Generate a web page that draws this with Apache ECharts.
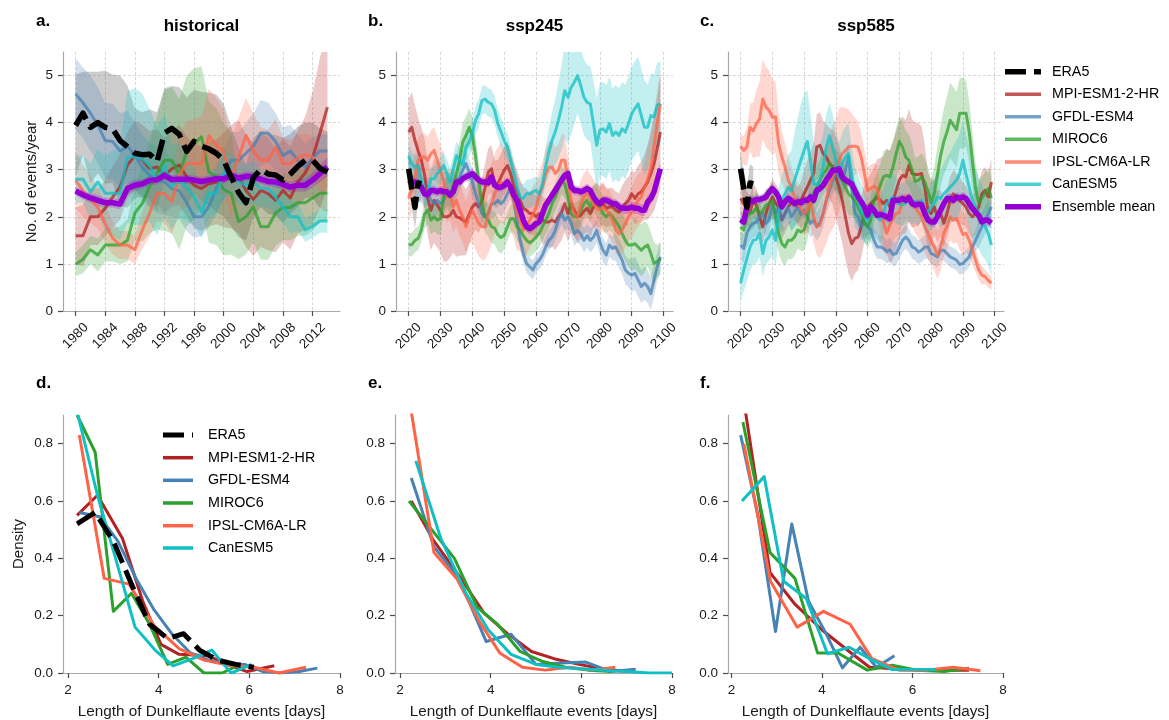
<!DOCTYPE html>
<html>
<head>
<meta charset="utf-8">
<title>Dunkelflaute events</title>
<script src="https://cdn.jsdelivr.net/npm/echarts@6.0.0/dist/echarts.min.js"></script>
<style>
  html, body { margin: 0; padding: 0; background: #ffffff; }
  #chart { width: 1169px; height: 720px; }
</style>
</head>
<body>
<div id="chart"></div>
<script>
// ---------- names, colours, ticks ----------
const modelNames = ['MPI-ESM1-2-HR', 'GFDL-ESM4', 'MIROC6', 'IPSL-CM6A-LR', 'CanESM5'];
const modelColors = ['#b22222', '#4682b4', '#2ca02c', '#ff6347', '#10bfc4'];
const era5Name = 'ERA5';
const ensName = 'Ensemble mean';
const era5Color = '#000000';
const ensColor = '#9400d3';

const histYearTicks = [1980, 1984, 1988, 1992, 1996, 2000, 2004, 2008, 2012];
const futureYearTicks = [2020, 2030, 2040, 2050, 2060, 2070, 2080, 2090, 2100];
const countTicks = [0, 1, 2, 3, 4, 5];
const lengthTicks = [2, 4, 6, 8];
const densityTicks = [0, 0.2, 0.4, 0.6, 0.8];

const panelTitles = ['historical', 'ssp245', 'ssp585'];
const panelLetters = ['a.', 'b.', 'c.', 'd.', 'e.', 'f.'];

// ---------- historical events per year (1980-2014) ----------
const histStart = 1980;
const histERA5 = [3.94,4.2,3.9,4.0,3.9,3.87,3.62,3.49,3.35,3.32, 3.33,3.17,3.78,3.88,3.75,3.39,3.6,3.5,3.44,3.35, 3.2,2.85,2.52,2.3,2.83,3.01,2.91,2.89,2.78,2.91, 3.07,3.2,3.2,3.03,2.95];
const histMPI = [1.6,1.6,2.0,2.0,2.18,2.42,2.63,3.1,3.3,3.2, 3.02,3.06,2.88,3.02,3.1,2.85,2.67,2.6,2.7,2.74, 2.78,2.85,2.85,2.56,2.37,2.56,2.49,2.35,2.56,2.4, 2.74,2.93,3.25,3.78,4.33];
const histGFDL = [4.61,4.42,4.2,3.95,3.62,3.6,3.4,3.5,3.3,3.05, 2.88,2.78,2.74,2.6,2.55,2.3,2.0,2.0,2.22,2.6, 2.9,3.2,3.2,3.35,3.5,3.78,3.78,3.6,3.3,3.4, 3.2,3.05,3.25,3.4,3.4];
const histMIROC = [0.99,1.1,1.3,1.19,1.4,1.4,1.4,1.5,2.08,2.28, 2.65,2.93,3.2,3.2,2.9,3.4,3.55,3.7,2.95,2.85, 2.58,2.5,1.9,2.0,2.21,1.79,1.79,2.08,2.2,2.2, 2.3,2.3,2.4,2.5,2.5];
const histIPSL = [2.78,2.55,2.38,2.2,1.85,1.55,1.4,1.4,1.3,1.72, 2.08,2.5,2.49,2.32,2.9,3.13,3.13,3.13,3.72,3.52, 3.38,2.83,3.25,3.73,3.4,3.2,3.2,3.48,3.13,3.13, 3.25,3.32,3.27,3.0,2.98];
const histCan = [2.8,2.8,2.53,2.74,2.5,2.5,2.5,3.27,3.28,3.22, 3.09,2.76,3.09,2.64,2.78,2.62,2.42,2.1,2.5,2.5, 2.92,2.88,2.74,2.67,2.74,2.6,2.6,2.42,2.21,2.0, 2.0,1.72,1.8,1.91,1.91];
const histEns = [2.55,2.47,2.4,2.35,2.3,2.3,2.27,2.6,2.67,2.7, 2.77,2.79,2.88,2.79,2.8,2.8,2.78,2.75,2.78,2.81, 2.81,2.88,2.82,2.86,2.85,2.8,2.75,2.74,2.69,2.63, 2.67,2.67,2.78,2.92,3.06];
// half-widths of the shaded spread
const histERA5Band = [1.08,0.88,1.18,1.08,1.2,1.15,1.38,1.3,0.95,0.9, 0.95,1.05,0.95,0.9,1.0,1.15,1.1,1.15,1.2,1.25, 1.2,1.05,0.95,0.8,0.85,0.8,0.85,0.85,0.9,0.85, 0.85,0.8,0.8,0.85,0.85];
const histMPIBand = [0.6,0.65,0.6,0.6,0.6,0.65,0.7,0.7,0.75,0.75, 0.8,0.8,0.8,0.8,0.85,0.85,0.9,0.9,0.9,0.9, 1.0,1.1,1.2,1.2,1.2,1.2,1.2,1.1,1.1,1.1, 1.1,1.2,1.4,1.6,1.7];
const histGFDLBand = [0.75,0.75,0.8,0.8,0.8,0.8,0.8,0.75,0.7,0.7, 0.7,0.7,0.7,0.6,0.6,0.6,0.45,0.4,0.45,0.5, 0.55,0.6,0.6,0.65,0.7,0.7,0.65,0.6,0.6,0.55, 0.55,0.5,0.45,0.35,0.35];
const histMIROCBand = [0.25,0.3,0.3,0.35,0.35,0.35,0.4,0.45,0.6,0.8, 1.0,1.2,1.5,1.55,1.6,1.6,1.6,1.5,1.5,1.45, 1.4,1.3,0.8,0.8,0.75,0.7,0.7,0.7,0.7,0.7, 0.7,0.7,0.7,0.6,0.6];
const histIPSLBand = [0.6,0.55,0.5,0.45,0.4,0.35,0.3,0.3,0.3,0.4, 0.5,0.6,0.6,0.7,0.8,0.9,0.95,1.0,1.0,1.0, 0.9,0.85,0.85,0.8,0.8,0.7,0.65,0.6,0.55,0.5, 0.5,0.45,0.45,0.45,0.45];
const histCanBand = [0.5,0.5,0.6,0.7,0.8,0.9,1.0,1.4,1.45,1.4, 1.2,1.15,1.1,0.9,0.8,0.7,0.6,0.55,0.5,0.5, 0.5,0.45,0.45,0.45,0.45,0.4,0.4,0.4,0.35,0.35, 0.3,0.25,0.25,0.25,0.25];
const histEnsBand = [0.09,0.1,0.1,0.11,0.1,0.1,0.11,0.12,0.11,0.1, 0.1,0.1,0.1,0.1,0.1,0.1,0.1,0.1,0.1,0.1, 0.1,0.1,0.1,0.1,0.1,0.1,0.1,0.11,0.11,0.12, 0.13,0.14,0.16,0.18,0.2];

// ---------- ERA5 in the first scenario years (2020-2024) ----------
const recentStart = 2020;
const recentERA5 = [3.02, 2.6, 2.2, 2.72, 2.7];
const recentERA5Band = [0.35, 0.4, 0.45, 0.4, 0.35];

// ---------- ssp245 events per year (2020-2099) ----------
const futureStart = 2020;
const s245MPI = [3.8,3.9,3.62,3.4,3.2,2.9,2.4,2.14,2.35,2.25, 2.14,2.0,2.0,2.03,2.14,2.0,1.98,1.93,1.89,2.05, 2.21,2.28,2.21,2.32,2.63,2.95,3.02,2.7,2.7,2.85, 2.99,3.09,2.92,2.67,2.53,2.35,2.18,2.14,2.07,2.07, 2.0,2.07,1.93,1.89,1.89,1.93,1.89,2.0,2.1,2.28, 2.07,2.28,2.14,2.0,2.03,2.12,2.18,2.07,2.21,2.28, 2.21,2.28,2.18,2.21,2.21,2.14,2.1,2.21,2.28,2.35, 2.49,2.39,2.49,2.53,2.63,2.74,2.92,3.13,3.45,3.8];
const s245GFDL = [2.92,2.85,2.78,2.63,2.6,2.49,2.53,2.35,2.28,2.35, 2.28,2.35,2.56,2.49,2.56,2.67,2.85,2.99,3.13,2.95, 2.74,2.49,2.28,2.07,2.0,2.07,2.28,2.28,2.35,2.28, 2.35,2.49,2.63,2.35,1.93,1.5,1.22,1.01,0.94,0.87, 1.01,1.08,1.19,1.36,1.5,1.57,1.71,1.93,2.07,1.93, 2.0,1.86,1.64,1.71,1.64,1.5,1.6,1.5,1.57,1.71, 1.47,1.29,1.19,1.4,1.33,1.36,1.22,1.08,0.87,0.8, 0.76,0.8,0.66,0.52,0.59,0.52,0.37,0.66,0.94,1.15];
const s245MIROC = [1.4,1.41,1.5,1.54,1.72,2.05,2.15,1.93,2.0,1.93, 1.96,2.42,2.53,2.42,2.67,2.92,3.2,3.59,3.73,3.9, 3.73,3.3,2.74,2.3,2.0,1.93,1.79,1.76,1.62,1.56, 1.61,1.79,1.96,1.96,1.79,1.72,1.6,1.5,1.45,1.5, 1.57,1.65,1.79,1.93,2.07,2.28,2.42,2.6,2.78,2.7, 2.42,2.07,2.0,2.03,2.14,2.28,2.35,2.2,2.4,2.32, 2.21,2.07,2.0,2.07,2.0,1.9,1.8,1.64,1.5,1.4, 1.4,1.43,1.36,1.29,1.36,1.4,1.22,1.01,1.05,1.12];
const s245IPSL = [2.39,2.6,2.85,3.2,3.27,3.27,3.2,3.34,3.41,3.2, 2.99,2.74,2.42,2.49,2.21,2.35,2.14,2.0,1.79,2.0, 2.14,2.0,1.86,1.79,1.79,2.07,2.28,2.49,2.63,2.74, 2.63,2.78,2.53,2.35,2.07,1.89,1.72,1.79,1.93,2.05, 2.2,2.45,2.63,2.9,3.05,3.06,2.92,2.99,3.2,3.2, 2.78,2.35,2.07,2.0,2.28,2.42,2.5,2.4,2.28,2.18, 2.15,2.2,2.14,2.07,1.93,1.72,1.64,1.72,1.86,2.0, 2.1,2.25,2.35,2.42,2.63,2.78,3.05,3.5,3.98,4.4];
const s245Can = [3.3,3.13,3.06,3.09,2.78,2.53,2.49,2.81,2.81,2.92, 2.99,3.09,2.92,2.74,3.02,3.3,3.2,3.1,3.48,3.59, 3.77,4.05,4.19,4.47,4.5,4.43,4.4,4.26,3.98,3.8, 3.62,3.48,3.2,2.92,2.63,2.42,2.39,2.49,2.49,2.53, 2.56,2.49,2.7,3.06,3.38,3.62,3.8,4.05,4.33,4.68, 4.54,4.75,4.86,5.0,4.79,4.54,4.43,4.4,3.98,3.52, 3.84,3.87,3.8,3.98,3.73,3.8,3.73,3.87,3.8,3.98, 4.19,4.3,4.4,4.15,3.9,3.9,4.15,4.12,4.37,4.4];
const s245Ens = [2.78,2.74,2.74,2.7,2.63,2.49,2.47,2.56,2.56,2.53, 2.56,2.53,2.53,2.46,2.53,2.74,2.74,2.81,2.85,2.88, 2.92,2.85,2.78,2.74,2.74,2.72,2.85,2.67,2.63,2.63, 2.67,2.74,2.63,2.46,2.35,2.14,1.93,1.79,1.75,1.79, 1.86,1.89,2.07,2.25,2.35,2.46,2.56,2.67,2.78,2.88, 2.92,2.63,2.56,2.56,2.53,2.56,2.6,2.56,2.42,2.32, 2.28,2.35,2.35,2.32,2.28,2.28,2.21,2.18,2.18,2.18, 2.21,2.18,2.18,2.14,2.14,2.32,2.39,2.53,2.78,3.02];
const s245MPIBand = [0.7,0.75,0.75,0.7,0.7,0.75,0.8,0.85,0.9,0.9, 0.9,0.95,0.95,0.9,0.9,0.85,0.8,0.75,0.7,0.65, 0.6,0.55,0.55,0.5,0.5,0.5,0.5,0.5,0.5,0.5, 0.5,0.5,0.5,0.45,0.45,0.45,0.45,0.45,0.45,0.45, 0.45,0.45,0.5,0.5,0.55,0.55,0.6,0.6,0.6,0.6, 0.6,0.6,0.55,0.55,0.5,0.5,0.5,0.5,0.45,0.45, 0.45,0.45,0.4,0.4,0.4,0.4,0.4,0.45,0.5,0.5, 0.5,0.55,0.6,0.65,0.7,0.8,0.9,1.0,1.1,1.2];
const s245GFDLBand = [0.3,0.3,0.3,0.3,0.3,0.3,0.3,0.3,0.3,0.3, 0.3,0.3,0.3,0.3,0.28,0.28,0.28,0.28,0.28,0.28, 0.28,0.28,0.28,0.28,0.28,0.28,0.28,0.28,0.28,0.28, 0.25,0.25,0.25,0.25,0.25,0.2,0.2,0.2,0.2,0.2, 0.2,0.2,0.2,0.2,0.2,0.22,0.22,0.22,0.22,0.22, 0.25,0.25,0.25,0.25,0.25,0.25,0.25,0.25,0.25,0.25, 0.25,0.25,0.25,0.25,0.25,0.3,0.3,0.3,0.3,0.3, 0.35,0.35,0.35,0.35,0.35,0.35,0.35,0.35,0.3,0.3];
const s245MIROCBand = [0.25,0.25,0.25,0.25,0.25,0.3,0.3,0.3,0.3,0.3, 0.35,0.35,0.35,0.35,0.35,0.4,0.4,0.4,0.4,0.4, 0.4,0.4,0.4,0.35,0.35,0.35,0.35,0.35,0.35,0.35, 0.3,0.3,0.3,0.3,0.3,0.3,0.3,0.3,0.3,0.3, 0.3,0.3,0.3,0.3,0.3,0.3,0.3,0.3,0.3,0.3, 0.3,0.3,0.3,0.3,0.3,0.3,0.3,0.3,0.3,0.3, 0.35,0.35,0.35,0.35,0.35,0.45,0.45,0.45,0.45,0.45, 0.55,0.55,0.55,0.55,0.55,0.45,0.45,0.45,0.35,0.35];
const s245IPSLBand = [0.5,0.5,0.5,0.5,0.5,0.5,0.5,0.5,0.5,0.5, 0.55,0.55,0.55,0.55,0.55,0.55,0.55,0.55,0.55,0.55, 0.7,0.7,0.7,0.7,0.7,0.85,0.85,0.85,0.85,0.85, 0.8,0.8,0.8,0.8,0.8,0.6,0.6,0.6,0.6,0.6, 0.55,0.55,0.55,0.55,0.55,0.55,0.55,0.55,0.55,0.55, 0.5,0.5,0.5,0.5,0.5,0.5,0.5,0.5,0.5,0.5, 0.5,0.5,0.5,0.5,0.5,0.5,0.5,0.5,0.5,0.5, 0.55,0.55,0.55,0.55,0.55,0.7,0.7,0.7,0.7,0.7];
const s245CanBand = [0.25,0.25,0.25,0.25,0.25,0.25,0.25,0.25,0.25,0.25, 0.3,0.3,0.3,0.3,0.3,0.3,0.3,0.3,0.3,0.3, 0.3,0.3,0.3,0.3,0.3,0.3,0.3,0.3,0.3,0.3, 0.3,0.3,0.3,0.3,0.3,0.3,0.3,0.3,0.3,0.3, 0.3,0.3,0.3,0.4,0.5,0.6,0.7,0.8,0.9,1.0, 1.0,1.0,0.9,0.8,0.8,0.8,0.8,0.8,0.9,1.0, 1.0,1.0,1.0,1.0,1.0,1.0,1.0,1.0,1.0,1.0, 1.0,1.0,1.0,1.0,1.0,0.9,0.9,0.9,0.9,0.9];
const s245EnsBand = [0.1,0.1,0.11,0.11,0.1,0.1,0.1,0.1,0.1,0.1, 0.1,0.1,0.1,0.1,0.1,0.1,0.1,0.1,0.11,0.11, 0.11,0.1,0.1,0.1,0.1,0.1,0.1,0.1,0.1,0.1, 0.1,0.1,0.1,0.1,0.1,0.1,0.1,0.1,0.1,0.1, 0.1,0.1,0.1,0.1,0.1,0.1,0.1,0.1,0.11,0.11, 0.11,0.1,0.1,0.1,0.1,0.1,0.1,0.1,0.1,0.1, 0.1,0.1,0.1,0.1,0.1,0.1,0.11,0.11,0.12,0.12, 0.12,0.12,0.12,0.12,0.12,0.13,0.13,0.14,0.15,0.15];

// ---------- ssp585 events per year (2020-2099) ----------
const s585MPI = [2.39,2.28,2.18,2.1,2.35,2.25,2.0,1.79,2.07,2.28, 2.42,2.3,2.2,1.93,2.07,2.21,2.3,2.35,2.21,2.35, 2.49,2.63,2.78,2.92,3.48,3.52,3.34,3.27,3.13,3.06, 2.85,2.63,2.35,2.0,1.65,1.43,1.54,1.57,1.79,2.07, 2.21,2.28,2.35,2.42,2.35,2.28,2.35,2.21,2.35,2.56, 2.78,2.88,2.85,3.09,2.92,2.9,2.9,2.92,2.63,2.14, 2.07,2.21,2.0,2.07,1.86,2.07,2.35,2.49,2.42,2.35, 2.28,2.21,2.07,2.0,2.07,2.21,2.49,2.56,2.42,2.74];
const s585GFDL = [1.4,1.33,1.65,1.79,1.86,1.89,2.0,2.07,1.86,1.93, 2.3,2.07,2.2,1.95,2.07,2.2,2.0,2.1,2.21,2.05, 2.14,2.0,1.86,1.93,1.79,1.89,2.07,2.35,2.56,2.78, 2.92,2.85,2.78,2.99,3.27,2.63,2.07,2.0,1.79,1.89, 1.8,1.72,1.5,1.36,1.36,1.33,1.26,1.3,1.2,1.22, 1.36,1.5,1.57,1.5,1.36,1.33,1.25,1.29,1.36,1.36, 1.22,1.19,1.15,1.29,1.29,1.22,1.15,1.12,1.08,0.99, 1.01,1.08,1.15,1.36,1.5,1.65,1.79,1.93,2.07,2.21];
const s585MIROC = [1.79,1.72,2.0,2.07,2.1,2.21,2.07,2.12,2.25,2.28, 2.35,2.0,1.65,1.43,1.36,1.5,1.5,1.57,1.72,1.68, 1.72,1.93,2.35,2.49,2.63,2.78,2.92,2.99,3.13,3.06, 2.99,2.92,2.78,2.63,2.49,2.42,2.35,2.21,2.07,1.86, 1.79,1.93,2.35,2.49,2.67,2.85,2.88,2.85,3.06,3.34, 3.6,3.48,3.27,3.2,2.99,2.75,2.78,2.85,2.74,2.55, 2.3,2.5,2.9,3.3,3.6,3.8,4.05,3.95,3.85,4.2, 4.2,4.2,3.8,3.2,2.6,2.3,2.4,2.5,2.6,2.4];
const s585IPSL = [3.5,3.41,3.48,3.9,3.83,3.98,4.08,4.5,4.33,4.26, 4.12,4.12,3.55,3.27,3.06,2.78,2.63,2.42,2.28,2.18, 2.07,2.15,2.35,2.0,1.79,1.82,2.07,2.35,2.63,2.85, 2.99,3.2,3.34,3.41,3.48,3.5,3.5,3.48,3.27,2.92, 2.56,2.6,2.65,2.6,2.2,1.89,1.65,1.82,1.96,2.07, 2.1,2.35,2.45,2.4,2.3,2.2,2.1,2.0,1.79,1.65, 1.5,1.36,1.19,1.36,1.65,1.8,2.0,1.93,1.96,1.8, 1.62,1.65,1.5,1.29,1.08,0.87,0.76,0.73,0.65,0.59];
const s585Can = [0.59,0.87,1.12,1.36,1.5,1.52,1.65,1.22,1.5,1.57, 1.72,1.5,2.07,2.35,2.49,2.63,2.55,2.78,2.99,3.2, 3.41,3.6,3.2,2.7,2.68,2.78,3.06,3.48,3.72,3.48, 3.2,2.92,3.13,3.27,3.34,2.92,2.49,2.35,2.14,2.0, 1.93,2.07,2.05,2.0,1.93,2.1,2.28,2.35,2.42,2.35, 2.28,2.25,2.3,2.35,2.3,2.32,2.28,2.35,2.07,2.1, 2.21,2.3,2.42,2.39,2.49,2.56,2.63,2.7,2.78,2.92, 3.2,2.9,2.63,2.35,2.21,2.07,1.93,1.79,1.65,1.4];
const s585Ens = [1.94,1.89,2.21,2.35,2.33,2.37,2.37,2.39,2.42,2.53, 2.6,2.53,2.42,2.21,2.32,2.39,2.35,2.28,2.32,2.3, 2.35,2.35,2.42,2.35,2.56,2.6,2.67,2.78,2.88,2.99, 2.99,3.02,2.85,2.78,2.74,2.7,2.56,2.42,2.32,2.21, 2.03,2.21,2.14,2.03,2.05,2.03,2.0,1.96,2.35,2.35, 2.35,2.39,2.35,2.41,2.28,2.25,2.27,2.26,2.07,1.93, 1.89,1.89,2.0,2.14,2.28,2.39,2.39,2.35,2.42,2.4, 2.42,2.39,2.28,2.18,2.1,2.03,1.89,1.93,1.92,1.87];
const s585MPIBand = [0.35,0.35,0.35,0.35,0.35,0.35,0.35,0.35,0.35,0.35, 0.4,0.4,0.4,0.4,0.4,0.4,0.4,0.4,0.4,0.4, 0.5,0.55,0.6,0.65,0.7,0.7,0.7,0.7,0.75,0.8, 0.85,0.9,0.9,0.9,0.85,0.8,0.75,0.7,0.65,0.6, 0.6,0.65,0.7,0.8,0.9,1.0,1.1,1.2,1.25,1.25, 1.25,1.25,1.2,1.2,1.15,1.1,1.1,1.0,0.9,0.8, 0.7,0.6,0.55,0.5,0.5,0.5,0.5,0.5,0.5,0.5, 0.45,0.45,0.45,0.45,0.45,0.5,0.5,0.5,0.5,0.5];
const s585GFDLBand = [0.3,0.3,0.3,0.3,0.3,0.3,0.3,0.3,0.3,0.3, 0.3,0.3,0.3,0.3,0.3,0.3,0.3,0.3,0.3,0.3, 0.3,0.3,0.3,0.3,0.3,0.3,0.3,0.3,0.3,0.3, 0.35,0.35,0.35,0.35,0.35,0.3,0.3,0.3,0.3,0.3, 0.25,0.25,0.25,0.25,0.25,0.25,0.25,0.25,0.25,0.25, 0.25,0.25,0.25,0.25,0.25,0.25,0.25,0.25,0.25,0.25, 0.22,0.22,0.22,0.22,0.22,0.22,0.22,0.22,0.22,0.22, 0.22,0.22,0.22,0.22,0.22,0.3,0.3,0.3,0.3,0.3];
const s585MIROCBand = [0.35,0.35,0.35,0.35,0.35,0.35,0.35,0.35,0.35,0.35, 0.4,0.4,0.4,0.4,0.4,0.4,0.4,0.4,0.4,0.4, 0.45,0.45,0.45,0.45,0.45,0.45,0.45,0.45,0.45,0.45, 0.45,0.45,0.45,0.45,0.45,0.4,0.4,0.4,0.4,0.4, 0.45,0.45,0.45,0.45,0.45,0.55,0.55,0.55,0.55,0.55, 0.55,0.55,0.55,0.55,0.55,0.5,0.5,0.5,0.5,0.5, 0.5,0.55,0.6,0.65,0.7,0.75,0.8,0.8,0.8,0.75, 0.75,0.7,0.65,0.6,0.55,0.5,0.45,0.45,0.45,0.45];
const s585IPSLBand = [0.25,0.3,0.4,0.5,0.6,0.7,0.8,0.85,0.85,0.85, 0.8,0.75,0.65,0.55,0.5,0.5,0.45,0.45,0.45,0.45, 0.45,0.5,0.5,0.55,0.6,0.7,0.8,0.9,1.0,1.1, 1.1,1.1,1.0,0.9,0.8,0.7,0.6,0.55,0.5,0.5, 0.5,0.5,0.5,0.5,0.5,0.5,0.5,0.5,0.5,0.5, 0.5,0.5,0.5,0.5,0.5,0.55,0.55,0.55,0.55,0.55, 0.5,0.5,0.5,0.5,0.5,0.5,0.5,0.5,0.5,0.5, 0.45,0.4,0.35,0.3,0.25,0.2,0.2,0.15,0.15,0.15];
const s585CanBand = [0.4,0.45,0.5,0.5,0.5,0.5,0.5,0.5,0.5,0.5, 0.55,0.55,0.55,0.55,0.55,0.7,0.85,1.0,1.1,1.2, 1.2,1.1,1.0,0.9,0.8,0.75,0.7,0.7,0.7,0.7, 0.65,0.65,0.65,0.65,0.65,0.55,0.55,0.55,0.55,0.55, 0.5,0.5,0.5,0.5,0.5,0.5,0.5,0.5,0.5,0.5, 0.45,0.45,0.45,0.45,0.45,0.45,0.45,0.45,0.45,0.45, 0.5,0.5,0.55,0.6,0.65,0.7,0.75,0.8,0.85,0.85, 0.85,0.85,0.85,0.8,0.8,0.75,0.75,0.7,0.7,0.65];
const s585EnsBand = [0.1,0.1,0.11,0.11,0.1,0.1,0.1,0.1,0.1,0.1, 0.1,0.1,0.1,0.1,0.1,0.1,0.1,0.1,0.1,0.1, 0.1,0.1,0.1,0.1,0.1,0.1,0.1,0.11,0.11,0.11, 0.11,0.11,0.1,0.1,0.1,0.1,0.1,0.1,0.1,0.1, 0.1,0.1,0.1,0.1,0.1,0.1,0.1,0.1,0.1,0.1, 0.1,0.1,0.1,0.1,0.1,0.1,0.1,0.1,0.1,0.1, 0.1,0.1,0.1,0.1,0.1,0.1,0.1,0.1,0.1,0.1, 0.1,0.1,0.1,0.1,0.1,0.1,0.11,0.11,0.12,0.12];

// ---------- event-length density: [length in days, density] ----------
const histDensERA5 = [[2.2,0.52],[2.6,0.56],[3.0,0.46],[3.4,0.31],[3.8,0.17],[4.2,0.12],[4.55,0.137],[4.9,0.08],[5.3,0.045],[5.7,0.03],[6.1,0.02]];
const histDensMPI = [[2.2,0.55],[2.65,0.62],[3.2,0.47],[3.65,0.25],[4.05,0.1],[4.45,0.065],[5.1,0.06],[5.5,0.03],[5.95,0.005],[6.55,0.025]];
const histDensGFDL = [[2.25,0.56],[2.7,0.545],[3.1,0.46],[3.5,0.33],[3.9,0.22],[4.3,0.135],[4.7,0.07],[5.1,0.045],[5.5,0.033],[5.9,0.03],[6.3,0.005],[6.7,0.0],[7.1,0.005],[7.5,0.017]];
const histDensMIROC = [[2.2,0.9],[2.6,0.77],[3.0,0.215],[3.4,0.278],[3.8,0.17],[4.2,0.03],[4.6,0.055],[5.0,0.0],[5.4,0.0],[5.8,0.03]];
const histDensIPSL = [[2.25,0.83],[2.8,0.33],[3.35,0.31],[3.9,0.165],[4.45,0.085],[5.0,0.045],[5.55,0.027],[6.1,0.02],[6.65,0.0],[7.25,0.02]];
const histDensCan = [[2.22,0.9],[2.65,0.62],[3.05,0.4],[3.48,0.16],[3.92,0.08],[4.32,0.025],[4.75,0.05],[5.17,0.08],[5.6,0.0],[6.05,0.03]];

const s245DensMPI = [[2.25,0.6],[2.75,0.46],[3.3,0.34],[3.85,0.21],[4.35,0.14],[4.9,0.075],[5.4,0.05],[5.95,0.03],[6.45,0.015],[7.0,0.005]];
const s245DensGFDL = [[2.25,0.68],[2.75,0.44],[3.3,0.33],[3.9,0.11],[4.45,0.135],[5.0,0.03],[5.55,0.035],[6.1,0.038],[6.65,0.005],[7.2,0.013]];
const s245DensMIROC = [[2.2,0.6],[2.7,0.5],[3.2,0.4],[3.7,0.23],[4.15,0.17],[4.65,0.075],[5.15,0.04],[5.65,0.02],[6.15,0.01],[6.65,0.005]];
const s245DensIPSL = [[2.2,0.96],[2.75,0.42],[3.25,0.33],[3.75,0.18],[4.2,0.07],[4.7,0.02],[5.2,0.01],[5.75,0.02],[6.25,0.01],[6.75,0.02]];
const s245DensCan = [[2.35,0.74],[2.9,0.47],[3.45,0.28],[3.95,0.15],[4.45,0.065],[5.0,0.03],[5.5,0.02],[6.0,0.015],[6.5,0.01],[7.0,0.005],[7.5,0.0],[8.0,0.0]];

const s585DensMPI = [[2.25,0.97],[2.85,0.35],[3.4,0.24],[4.0,0.15],[4.6,0.075],[5.05,0.02],[5.6,0.015],[6.15,0.01],[6.7,0.01],[7.25,0.01]];
const s585DensGFDL = [[2.2,0.83],[2.58,0.55],[2.97,0.145],[3.33,0.52],[3.7,0.25],[4.08,0.14],[4.45,0.018],[4.84,0.09],[5.2,0.02],[5.6,0.06]];
const s585DensMIROC = [[2.25,0.875],[2.85,0.42],[3.4,0.33],[3.9,0.07],[4.35,0.07],[5.0,0.01],[5.55,0.027],[6.1,0.01],[6.7,0.005],[7.25,0.017]];
const s585DensIPSL = [[2.27,0.8],[2.86,0.32],[3.45,0.16],[4.03,0.215],[4.62,0.17],[5.1,0.05],[5.7,0.01],[6.3,0.01],[6.9,0.02],[7.5,0.008]];
const s585DensCan = [[2.23,0.6],[2.72,0.685],[3.15,0.32],[3.65,0.26],[4.12,0.067],[4.6,0.09],[5.05,0.05],[5.55,0.012],[6.05,0.012],[6.52,0.012]];

// ---------- layout & style ----------
const FONT = '"Liberation Sans", Arial, Helvetica, sans-serif';
const TXT = '#1a1a1a';
const SPINE = '#a8a8a8';
const TICK = '#4d4d4d';
const GRIDLINE = '#d2d2d2';
const ERA5_DASH = [21, 8];
const MODEL_ALPHA = 0.75;
const BAND_ALPHA = 0.25;

const grids = [
  { left: 63,  top: 52,  width: 277, height: 259 },
  { left: 396, top: 52,  width: 277, height: 259 },
  { left: 728, top: 52,  width: 276, height: 259 },
  { left: 63,  top: 415, width: 277, height: 259 },
  { left: 395, top: 415, width: 277, height: 259 },
  { left: 728, top: 415, width: 275, height: 259 }
];

function yearsFrom(start, n) {
  const out = [];
  for (let i = 0; i < n; i++) out.push(start + i);
  return out;
}

function baseAxis(gridIndex, min, max, ticks, fmt) {
  return {
    type: 'value', gridIndex, min, max,
    axisLine: { show: true, onZero: false, lineStyle: { color: SPINE, width: 1.2 } },
    axisTick: { show: true, inside: false, length: 5, customValues: ticks, lineStyle: { color: TICK, width: 1.2 } },
    axisLabel: { customValues: ticks, formatter: fmt, fontFamily: FONT, fontSize: 13.5, color: TXT },
    splitLine: { show: false }
  };
}

const gridLineStyle = { show: true, lineStyle: { color: GRIDLINE, width: 0.9, type: [3, 2] } };

function topXAxis(gridIndex, min, max, ticks) {
  const ax = baseAxis(gridIndex, min, max, ticks, v => String(Math.round(v)));
  ax.axisLabel.rotate = 45;
  ax.axisLabel.align = 'center';
  ax.axisLabel.verticalAlign = 'middle';
  ax.axisLabel.margin = 25;
  ax.splitLine = gridLineStyle;
  return ax;
}
function topYAxis(gridIndex, withName) {
  const ax = baseAxis(gridIndex, 0, 5.5, countTicks, v => String(Math.round(v)));
  ax.interval = 1;
  ax.axisLabel.margin = 10;
  ax.splitLine = gridLineStyle;
  if (withName) {
    ax.name = 'No. of events/year';
    ax.nameLocation = 'middle';
    ax.nameGap = 24;
    ax.nameTextStyle = { fontFamily: FONT, fontSize: 15, color: TXT };
  }
  return ax;
}
function bottomXAxis(gridIndex, min) {
  const ax = baseAxis(gridIndex, min, 8, lengthTicks, v => String(Math.round(v)));
  ax.axisLabel.margin = 10;
  ax.name = 'Length of Dunkelflaute events [days]';
  ax.nameLocation = 'middle';
  ax.nameGap = 31;
  ax.nameTextStyle = { fontFamily: FONT, fontSize: 15.3, color: TXT };
  return ax;
}
function bottomYAxis(gridIndex, withName) {
  const ax = baseAxis(gridIndex, 0, 0.9, densityTicks, v => v.toFixed(1));
  ax.axisLabel.margin = 10;
  if (withName) {
    ax.name = 'Density';
    ax.nameLocation = 'middle';
    ax.nameGap = 37;
    ax.nameTextStyle = { fontFamily: FONT, fontSize: 15, color: TXT };
  }
  return ax;
}

const xAxes = [
  topXAxis(0, 1978.3, 2015.7, histYearTicks),
  topXAxis(1, 2016.05, 2102.95, futureYearTicks),
  topXAxis(2, 2016.05, 2102.95, futureYearTicks),
  bottomXAxis(3, 1.89),
  bottomXAxis(4, 1.89),
  bottomXAxis(5, 1.92)
];
const yAxes = [
  topYAxis(0, true), topYAxis(1, false), topYAxis(2, false),
  bottomYAxis(3, true), bottomYAxis(4, false), bottomYAxis(5, false)
];

const series = [];

// keep a pixel polygon inside the plot's vertical range
function clipEdge(pts, inside, cut) {
  const out = [];
  for (let i = 0; i < pts.length; i++) {
    const cur = pts[i];
    const prev = pts[(i + pts.length - 1) % pts.length];
    const ci = inside(cur), pi = inside(prev);
    if (ci) {
      if (!pi) out.push(cut(prev, cur));
      out.push(cur);
    } else if (pi) {
      out.push(cut(prev, cur));
    }
  }
  return out;
}
function clipPolygonY(pts, top, bottom) {
  const atY = (a, b, y) => [a[0] + (b[0] - a[0]) * (y - a[1]) / (b[1] - a[1]), y];
  let r = clipEdge(pts, p => p[1] >= top, (a, b) => atY(a, b, top));
  r = clipEdge(r, p => p[1] <= bottom, (a, b) => atY(a, b, bottom));
  return r;
}

// shaded spread around a yearly series, drawn as one polygon
function addBand(axisIdx, start, mean, half, color, alpha) {
  const yrs = yearsFrom(start, mean.length);
  const upper = yrs.map((y, i) => [y, mean[i] + half[i]]);
  const lower = yrs.map((y, i) => [y, mean[i] - half[i]]);
  const outline = upper.concat(lower.slice().reverse());
  series.push({
    type: 'custom', xAxisIndex: axisIdx, yAxisIndex: axisIdx, silent: true, z: 1,
    data: [[start, mean[0]]],
    renderItem: (params, api) => {
      const cs = params.coordSys;
      const px = outline.map(p => api.coord(p));
      const pts = clipPolygonY(px, cs.y, cs.y + cs.height);
      return { type: 'polygon', shape: { points: pts }, style: { fill: color, opacity: alpha } };
    }
  });
}

function addLine(axisIdx, name, points, color, width, opacity, dash, z) {
  series.push({
    type: 'line', name, xAxisIndex: axisIdx, yAxisIndex: axisIdx,
    data: points, symbol: 'none', silent: true, z,
    lineStyle: { color, width, opacity, type: dash || 'solid', cap: 'butt', join: 'round' }
  });
}

function addYearLine(axisIdx, name, start, values, color, width, opacity, dash, z) {
  const yrs = yearsFrom(start, values.length);
  addLine(axisIdx, name, yrs.map((y, i) => [y, values[i]]), color, width, opacity, dash, z);
}

// ---------- top row: events per year ----------
const topPanels = [
  { axis: 0, start: histStart, models: [histMPI, histGFDL, histMIROC, histIPSL, histCan],
    bands: [histMPIBand, histGFDLBand, histMIROCBand, histIPSLBand, histCanBand],
    ens: histEns, ensBand: histEnsBand, era5: histERA5, era5Band: histERA5Band, era5Start: histStart },
  { axis: 1, start: futureStart, models: [s245MPI, s245GFDL, s245MIROC, s245IPSL, s245Can],
    bands: [s245MPIBand, s245GFDLBand, s245MIROCBand, s245IPSLBand, s245CanBand],
    ens: s245Ens, ensBand: s245EnsBand, era5: recentERA5, era5Band: recentERA5Band, era5Start: recentStart },
  { axis: 2, start: futureStart, models: [s585MPI, s585GFDL, s585MIROC, s585IPSL, s585Can],
    bands: [s585MPIBand, s585GFDLBand, s585MIROCBand, s585IPSLBand, s585CanBand],
    ens: s585Ens, ensBand: s585EnsBand, era5: recentERA5, era5Band: recentERA5Band, era5Start: recentStart }
];

topPanels.forEach(p => {
  addBand(p.axis, p.era5Start, p.era5, p.era5Band, '#808080', 0.4);
  p.models.forEach((m, k) => addBand(p.axis, p.start, m, p.bands[k], modelColors[k], BAND_ALPHA));
  addBand(p.axis, p.start, p.ens, p.ensBand, ensColor, BAND_ALPHA);
  p.models.forEach((m, k) => addYearLine(p.axis, modelNames[k], p.start, m, modelColors[k], 3, MODEL_ALPHA, null, 2));
  addYearLine(p.axis, ensName, p.start, p.ens, ensColor, 5.5, 1, null, 3);
  addYearLine(p.axis, era5Name, p.era5Start, p.era5, era5Color, 5.5, 1, ERA5_DASH, 4);
});

// ---------- bottom row: event-length density ----------
const bottomPanels = [
  { axis: 3, models: [histDensMPI, histDensGFDL, histDensMIROC, histDensIPSL, histDensCan], era5: histDensERA5 },
  { axis: 4, models: [s245DensMPI, s245DensGFDL, s245DensMIROC, s245DensIPSL, s245DensCan], era5: null },
  { axis: 5, models: [s585DensMPI, s585DensGFDL, s585DensMIROC, s585DensIPSL, s585DensCan], era5: null }
];
bottomPanels.forEach(p => {
  if (p.era5) addLine(p.axis, era5Name, p.era5, era5Color, 5, 1, ERA5_DASH, 3);
  p.models.forEach((m, k) => addLine(p.axis, modelNames[k], m, modelColors[k], 3, 1, null, 2));
});

// ---------- titles, panel letters, legends ----------
const graphics = [];
function text(x, y, str, font, align) {
  graphics.push({ type: 'text', x, y, silent: true,
    style: { text: str, font, fill: '#000', align: align || 'left', verticalAlign: 'middle' } });
}
const titleCenters = [201.5, 534.5, 866];
panelTitles.forEach((t, i) => text(titleCenters[i], 26, t, 'bold 17px ' + FONT, 'center'));
const letterPos = [[36, 21], [368, 21], [700, 21], [36, 383], [368, 383], [700, 383]];
panelLetters.forEach((t, i) => text(letterPos[i][0], letterPos[i][1], t, 'bold 17px ' + FONT, 'left'));

function legendEntry(x1, x2, tx, y, label, color, width, opacity, dash) {
  graphics.push({ type: 'line', silent: true,
    shape: { x1, y1: y, x2, y2: y },
    style: { stroke: color, lineWidth: width, opacity, lineDash: dash || null, lineCap: 'butt' } });
  text(tx, y, label, '14.3px ' + FONT, 'left');
}

// legend beside the ssp585 panel
const topLegendRows = [71.7, 94.3, 116.7, 139.3, 162, 184.3, 206.7];
legendEntry(1005, 1041, 1052, topLegendRows[0], era5Name, era5Color, 5.5, 1, ERA5_DASH);
modelNames.forEach((n, k) => legendEntry(1005, 1041, 1052, topLegendRows[k + 1], n, modelColors[k], 3.5, MODEL_ALPHA));
legendEntry(1005, 1041, 1052, topLegendRows[6], ensName, ensColor, 5.5, 1);

// legend inside the historical density panel
const bottomLegendRows = [435, 457.7, 480.3, 503, 525.7, 548];
legendEntry(163, 193, 208, bottomLegendRows[0], era5Name, era5Color, 5, 1, ERA5_DASH);
modelNames.forEach((n, k) => legendEntry(163, 193, 208, bottomLegendRows[k + 1], n, modelColors[k], 3.5, 1));

const chart = echarts.init(document.getElementById('chart'), null, { renderer: 'canvas' });
chart.setOption({
  backgroundColor: '#ffffff',
  animation: false,
  grid: grids,
  xAxis: xAxes,
  yAxis: yAxes,
  series: series,
  graphic: graphics
});
</script>
</body>
</html>
